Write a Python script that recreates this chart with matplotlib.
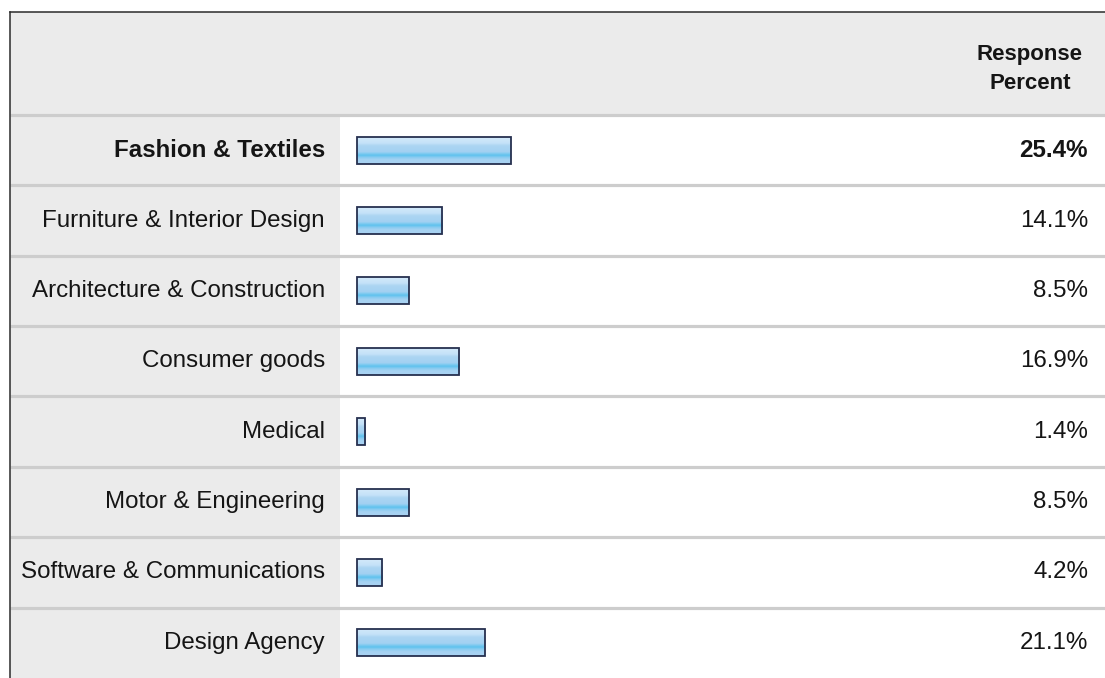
import numpy as np
import matplotlib
matplotlib.use("Agg")
import matplotlib.pyplot as plt
from matplotlib.colors import LinearSegmentedColormap

categories = [
    "Fashion & Textiles",
    "Furniture & Interior Design",
    "Architecture & Construction",
    "Consumer goods",
    "Medical",
    "Motor & Engineering",
    "Software & Communications",
    "Design Agency",
]
percent = [25.4, 14.1, 8.5, 16.9, 1.4, 8.5, 4.2, 21.1]
value_labels = ["25.4%", "14.1%", "8.5%", "16.9%", "1.4%", "8.5%", "4.2%", "21.1%"]
header = "Response\nPercent"

plt.rcParams["font.family"] = ["Liberation Sans", "DejaVu Sans"]

W, H = 1105, 678
fig = plt.figure(figsize=(W / 100, H / 100), dpi=100)
fig.patch.set_facecolor("white")

# Layout in pixels
X0 = 357.0          # where bars start
PX_PER_PCT = 6.06   # horizontal scale
HEAD_BOTTOM = 115.0
ROW_H = (H - HEAD_BOTTOM) / len(categories)

ax = fig.add_axes([0, 0, 1, 1])
top = -0.5 - HEAD_BOTTOM / ROW_H


def px(x):
    return (x - X0) / PX_PER_PCT


def py(y):
    return top + y / ROW_H


left_edge, top_edge, label_col = 10, 12, 340
bg = "#ebebeb"

# header band and label column
ax.fill_between([px(left_edge), px(W)], py(top_edge), py(HEAD_BOTTOM), color=bg, zorder=0, lw=0)
ax.fill_between([px(left_edge), px(label_col)], py(HEAD_BOTTOM), py(H), color=bg, zorder=0, lw=0)

# row separators
for i in range(len(categories)):
    ax.plot([px(left_edge), px(W)], [i - 0.5, i - 0.5], color="#cdcdcd", lw=2.3,
            zorder=1, solid_capstyle="butt")

# outer frame (left and top)
ax.plot([px(left_edge), px(left_edge)], [py(H), py(top_edge)], color="#2b2b2b", lw=1.1, zorder=5)
ax.plot([px(left_edge), px(W)], [py(top_edge), py(top_edge)], color="#2b2b2b", lw=1.1, zorder=5)

# bars with a glossy vertical gradient
y_pos = np.arange(len(categories))
bar_h = 27 / ROW_H
bars = ax.barh(y_pos, percent, height=bar_h, left=0, color="none",
               edgecolor="#26304f", linewidth=1.3, zorder=4)
grad_cmap = LinearSegmentedColormap.from_list(
    "gloss",
    [(0.0, "#d3e9fa"), (0.22, "#c4e2f8"), (0.32, "#acd5f2"), (0.55, "#a3d1f2"),
     (0.62, "#7ccaf0"), (0.68, "#5ec2ee"), (0.75, "#86cbf0"), (0.85, "#a6d2f2"),
     (1.0, "#a9d3f3")])
grad = np.linspace(0, 1, 64).reshape(-1, 1)
for rect in bars:
    x, y = rect.get_x(), rect.get_y()
    w, h = rect.get_width(), rect.get_height()
    im = ax.imshow(grad, cmap=grad_cmap, aspect="auto", extent=[x, x + w, y + h, y],
                   zorder=3, interpolation="bilinear")
    im.set_clip_path(rect)

# category labels and values
for i, (cat, lab) in enumerate(zip(categories, value_labels)):
    weight = "bold" if i == 0 else "normal"
    ax.text(px(325), i, cat, ha="right", va="center", fontsize=17.4,
            fontweight=weight, color="#151515", zorder=6)
    ax.text(px(1088), i, lab, ha="right", va="center", fontsize=17.4,
            fontweight=weight, color="#151515", zorder=6)

ax.text(px(1030), py(69), header, ha="center", va="center", multialignment="center",
        fontsize=16, fontweight="bold", color="#151515", linespacing=1.55, zorder=6)

ax.set_xlim(-X0 / PX_PER_PCT, (W - X0) / PX_PER_PCT)
ax.set_ylim(len(categories) - 0.5, top)
ax.axis("off")

fig.savefig("out.png", dpi=100, facecolor="white")
